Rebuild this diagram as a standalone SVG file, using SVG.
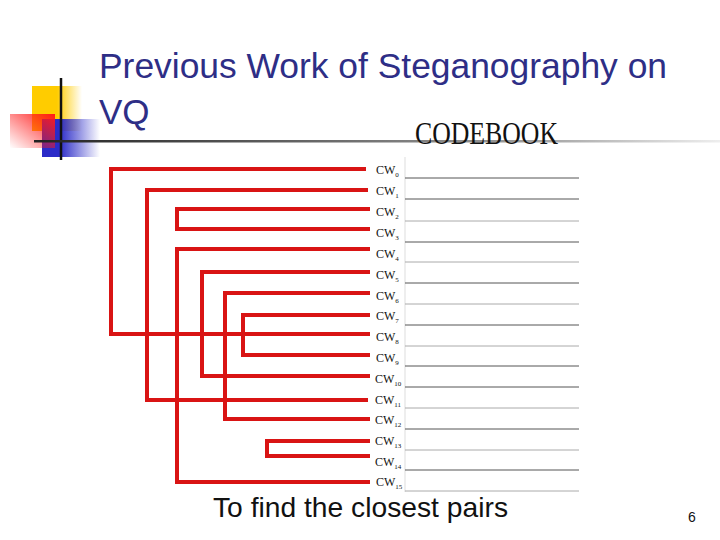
<svg xmlns="http://www.w3.org/2000/svg" width="720" height="540" viewBox="0 0 720 540">
<defs>
<linearGradient id="gl" x1="0" x2="1"><stop offset="0" stop-color="#222"/><stop offset="0.7" stop-color="#999"/><stop offset="1" stop-color="#eee"/></linearGradient>
<linearGradient id="gy" x1="0" x2="1"><stop offset="0.5" stop-color="#ffcc00"/><stop offset="1" stop-color="#ffcc00" stop-opacity="0"/></linearGradient>
<linearGradient id="gb" x1="0" x2="1"><stop offset="0.3" stop-color="#2b2bc8"/><stop offset="1" stop-color="#2b2bc8" stop-opacity="0"/></linearGradient>
<linearGradient id="gr" x1="1" x2="0" y1="0" y2="1"><stop offset="0" stop-color="#ff1a1a"/><stop offset="1" stop-color="#ff1a1a" stop-opacity="0"/></linearGradient>
</defs>
<style>
.r{fill:none;stroke:#d91414;stroke-width:4;stroke-linejoin:miter}
.cw{font-family:"Liberation Serif",serif;font-size:12px;fill:#111}
.sub{font-size:7px;fill:#111}
.g{stroke:#555;stroke-width:1}
</style>
<rect width="720" height="540" fill="#fff"/>
<g id="logo">
<rect x="32" y="86" width="50" height="45" fill="url(#gy)"/>
<rect x="42" y="119" width="58" height="38" fill="url(#gb)"/>
<rect x="10" y="114" width="45" height="34" fill="url(#gr)"/>
<line x1="61" y1="78" x2="61" y2="160" stroke="#111" stroke-width="2.5"/>
<rect x="34" y="140" width="686" height="2.5" fill="url(#gl)"/>
</g>
<text x="99" y="78" font-family="'Liberation Sans',sans-serif" font-size="35" fill="#2e2e86" textLength="568" lengthAdjust="spacingAndGlyphs">Previous Work of Steganography on</text>
<text x="99" y="124" font-family="'Liberation Sans',sans-serif" font-size="35" fill="#2e2e86">VQ</text>
<text x="415" y="144" font-family="'Liberation Serif',serif" font-size="32" fill="#111" textLength="143" lengthAdjust="spacingAndGlyphs">CODEBOOK</text>
<g id="codebook">
<line x1="405" y1="157" x2="405" y2="492" stroke="#ddd"/>
<g class="g">
<line x1="405" y1="178" x2="579" y2="178"/><line x1="405" y1="199" x2="579" y2="199"/><line x1="405" y1="221" x2="579" y2="221" stroke="#aaa"/><line x1="405" y1="242" x2="579" y2="242"/><line x1="405" y1="262" x2="579" y2="262" stroke="#aaa"/><line x1="405" y1="283" x2="579" y2="283"/><line x1="405" y1="304" x2="579" y2="304" stroke="#aaa"/><line x1="405" y1="325" x2="579" y2="325"/><line x1="405" y1="346" x2="579" y2="346" stroke="#aaa"/><line x1="405" y1="366" x2="579" y2="366"/><line x1="405" y1="387" x2="579" y2="387"/><line x1="405" y1="408" x2="579" y2="408" stroke="#aaa"/><line x1="405" y1="429" x2="579" y2="429"/><line x1="405" y1="450" x2="579" y2="450" stroke="#aaa"/><line x1="405" y1="470" x2="579" y2="470"/><line x1="405" y1="491" x2="579" y2="491" stroke="#aaa"/>
</g>
</g>
<g id="labels" class="cw">
<text x="376" y="174">CW<tspan class="sub" dy="3">0</tspan></text>
<text x="376" y="195">CW<tspan class="sub" dy="3">1</tspan></text>
<text x="376" y="216">CW<tspan class="sub" dy="3">2</tspan></text>
<text x="376" y="237">CW<tspan class="sub" dy="3">3</tspan></text>
<text x="376" y="258">CW<tspan class="sub" dy="3">4</tspan></text>
<text x="376" y="279">CW<tspan class="sub" dy="3">5</tspan></text>
<text x="376" y="300">CW<tspan class="sub" dy="3">6</tspan></text>
<text x="376" y="320">CW<tspan class="sub" dy="3">7</tspan></text>
<text x="376" y="341">CW<tspan class="sub" dy="3">8</tspan></text>
<text x="376" y="362">CW<tspan class="sub" dy="3">9</tspan></text>
<text x="375" y="383">CW<tspan class="sub" dy="3">10</tspan></text>
<text x="375" y="404">CW<tspan class="sub" dy="3">11</tspan></text>
<text x="375" y="424">CW<tspan class="sub" dy="3">12</tspan></text>
<text x="375" y="445">CW<tspan class="sub" dy="3">13</tspan></text>
<text x="375" y="466">CW<tspan class="sub" dy="3">14</tspan></text>
<text x="376" y="486">CW<tspan class="sub" dy="3">15</tspan></text>
</g>
<g id="connectors" class="r">
<path d="M366 169H111V334H370"/>
<path d="M368 190H147V400H368"/>
<path d="M370 209H177V229H370"/>
<path d="M370 249H177V482H370"/>
<path d="M370 272H202V376H370"/>
<path d="M370 293H225V419H370"/>
<path d="M370 315H243V355H370"/>
<path d="M370 441H267V456H370"/>
</g>
<text x="213" y="517" font-family="'Liberation Sans',sans-serif" font-size="28" fill="#111" textLength="295" lengthAdjust="spacingAndGlyphs">To find the closest pairs</text>
<text x="688" y="522" font-family="'Liberation Sans',sans-serif" font-size="14" fill="#111">6</text>
</svg>
